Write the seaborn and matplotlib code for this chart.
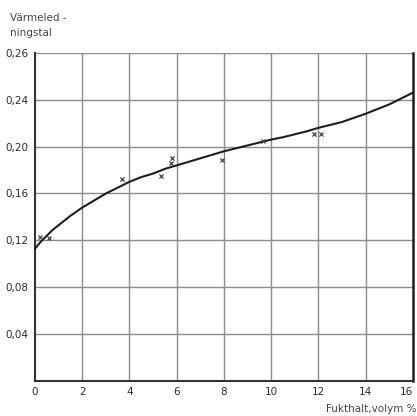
import numpy as np
import pandas as pd
import matplotlib
matplotlib.use("Agg")
import matplotlib.pyplot as plt
import seaborn as sns

# values (drawn curve, read every half unit)
curve_x = [0, 0.25, 0.5, 0.75, 1, 1.5, 2, 2.5, 3, 3.5, 4, 4.5, 5, 5.5, 6,
           6.5, 7, 7.5, 8, 8.5, 9, 9.5, 10, 10.5, 11, 11.5, 12, 12.5, 13,
           13.5, 14, 14.5, 15, 15.5, 16]
curve_y = [0.113, 0.119, 0.124, 0.129, 0.133, 0.141, 0.148, 0.154, 0.160,
           0.165, 0.170, 0.174, 0.177, 0.181, 0.184, 0.187, 0.190, 0.193,
           0.196, 0.1985, 0.201, 0.2035, 0.206, 0.208, 0.2105, 0.213, 0.216,
           0.2185, 0.221, 0.2245, 0.228, 0.232, 0.236, 0.241, 0.246]

# measured points
meas_x = [0.2, 0.6, 3.7, 5.35, 5.75, 5.8, 7.9, 9.65, 11.8, 12.1]
meas_y = [0.123, 0.122, 0.172, 0.175, 0.186, 0.190, 0.189, 0.205, 0.211, 0.211]

x_ticks = [0, 2, 4, 6, 8, 10, 12, 14, 16]
y_ticks = [0.04, 0.08, 0.12, 0.16, 0.20, 0.24, 0.28]
y_tick_labels = ["0,04", "0,08", "0,12", "0,16", "0,20", "0,24", "0,26"]

sns.set_style("white")
plt.rcParams['font.family'] = ['DejaVu Sans']

fig = plt.figure(figsize=(4.17, 4.16), dpi=100)
ax = fig.add_axes([0.084, 0.084, 0.906, 0.789])

grid_col = "#8c8c8c"
for xv in x_ticks[1:-1]:
    ax.axvline(xv, color=grid_col, lw=1.0, zorder=1)
for yv in y_ticks:
    ax.axhline(yv, color=grid_col, lw=1.0, zorder=1)

curve = pd.DataFrame({"x": curve_x, "y": curve_y})
sns.lineplot(data=curve, x="x", y="y", ax=ax, color="#1e1e1e", lw=1.5, zorder=3)

meas = pd.DataFrame({"x": meas_x, "y": meas_y})
sns.scatterplot(data=meas, x="x", y="y", ax=ax, marker="x", s=9,
                color="#444444", linewidth=0.9, zorder=4)

ax.set_xlim(0, 16)
ax.set_ylim(0, 0.28)
ax.set_xticks(x_ticks)
ax.set_xticklabels([str(v) for v in x_ticks])
ax.set_yticks(y_ticks)
ax.set_yticklabels(y_tick_labels)
ax.tick_params(axis="both", labelsize=7.5, colors="#2a2a2a", length=3,
               width=1, direction="out", pad=1.5)
ax.tick_params(axis="x", length=0, pad=4)
# last x label sits at the right edge of the sheet, keep it inside
ax.get_xticklabels()[-1].set_horizontalalignment("right")
ax.set_xlabel("")
ax.set_ylabel("")

for side in ["left", "bottom"]:
    ax.spines[side].set_color("#333333")
    ax.spines[side].set_linewidth(1.5)
ax.spines["top"].set_visible(False)
ax.spines["right"].set_color("#1e1e1e")
ax.spines["right"].set_linewidth(1.8)

fig.text(0.025, 0.957, "Värmeled -", fontsize=7.5, color="#444444", va="center")
fig.text(0.025, 0.92, "ningstal", fontsize=7.5, color="#444444", va="center")
fig.text(0.998, 0.018, "Fukthalt,volym %", fontsize=7.5, color="#444444",
         ha="right", va="center")

fig.savefig("out.png", dpi=100)
